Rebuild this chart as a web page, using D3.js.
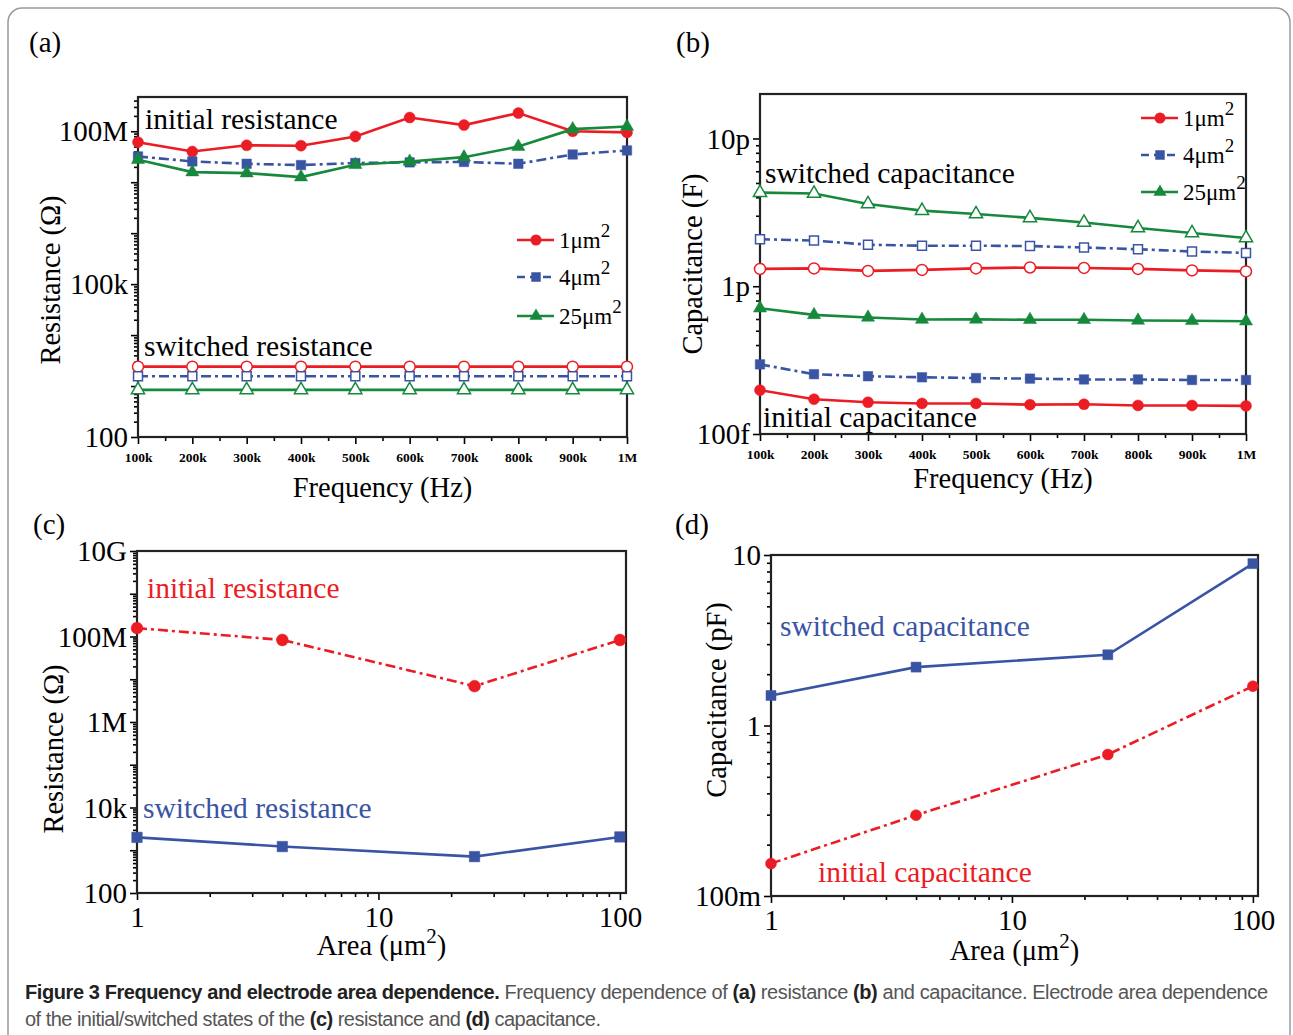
<!DOCTYPE html>
<html lang="en">
<head>
<meta charset="UTF-8">
<title>Figure 3</title>
<script src="https://d3js.org/d3.v7.min.js"></script>
<style>
  body { margin: 0; background: #fff; }
  svg { display: block; }
  .serif { font-family: "Liberation Serif", "DejaVu Serif", serif; }
  .caption { font-family: "Liberation Sans Narrow", "Liberation Sans", Arial, sans-serif; font-size: 20px; fill: #555; }
  .caption .b { font-weight: bold; fill: #222; }
</style>
</head>
<body>
<div id="chart"></div>
<script>
// ---- data ----
const freqK = [100, 200, 300, 400, 500, 600, 700, 800, 900, 1000];
const freqTickText = ["100k", "200k", "300k", "400k", "500k", "600k", "700k", "800k", "900k", "1M"];

// (a) resistance vs frequency (ohm)
const resInit1 = [6.1e7, 4.0e7, 5.3e7, 5.2e7, 7.9e7, 1.86e8, 1.32e8, 2.27e8, 1.0e8, 9.5e7];
const resInit4 = [3.2e7, 2.56e7, 2.3e7, 2.17e7, 2.38e7, 2.45e7, 2.5e7, 2.3e7, 3.5e7, 4.2e7];
const resInit25 = [2.76e7, 1.58e7, 1.51e7, 1.26e7, 2.2e7, 2.55e7, 3.1e7, 5.0e7, 1.1e8, 1.24e8];
const resSw1 = [2.4e3, 2.4e3, 2.4e3, 2.4e3, 2.4e3, 2.4e3, 2.4e3, 2.4e3, 2.4e3, 2.4e3];
const resSw4 = [1.56e3, 1.56e3, 1.56e3, 1.56e3, 1.56e3, 1.56e3, 1.56e3, 1.56e3, 1.56e3, 1.56e3];
const resSw25 = [840, 840, 840, 840, 840, 840, 840, 840, 840, 840];
const resFreqTicks = [1e2, 1e5, 1e8];
const resFreqTickText = ["100", "100k", "100M"];

// (b) capacitance vs frequency (F)
const capInit1 = [1.98e-13, 1.72e-13, 1.64e-13, 1.61e-13, 1.61e-13, 1.58e-13, 1.59e-13, 1.56e-13, 1.56e-13, 1.55e-13];
const capInit4 = [2.96e-13, 2.54e-13, 2.46e-13, 2.42e-13, 2.39e-13, 2.37e-13, 2.34e-13, 2.34e-13, 2.32e-13, 2.32e-13];
const capInit25 = [7.1e-13, 6.4e-13, 6.15e-13, 5.95e-13, 5.97e-13, 5.93e-13, 5.93e-13, 5.87e-13, 5.84e-13, 5.8e-13];
const capSw1 = [1.31e-12, 1.32e-12, 1.27e-12, 1.29e-12, 1.32e-12, 1.34e-12, 1.33e-12, 1.31e-12, 1.28e-12, 1.26e-12];
const capSw4 = [2.08e-12, 2.04e-12, 1.91e-12, 1.88e-12, 1.88e-12, 1.87e-12, 1.83e-12, 1.78e-12, 1.72e-12, 1.68e-12];
const capSw25 = [4.3e-12, 4.24e-12, 3.6e-12, 3.25e-12, 3.08e-12, 2.9e-12, 2.7e-12, 2.48e-12, 2.29e-12, 2.12e-12];
const capFreqTicks = [1e-13, 1e-12, 1e-11];
const capFreqTickText = ["100f", "1p", "10p"];

// (c), (d) electrode area dependence
const areas = [1, 4, 25, 100];
const areaTicks = [1, 10, 100];
const areaTickText = ["1", "10", "100"];
const areaResInit = [1.57e8, 8.3e7, 6.9e6, 8.3e7];
const areaResSw = [2.0e3, 1.22e3, 710, 2.05e3];
const resAreaTicks = [1e2, 1e4, 1e6, 1e8, 1e10];
const resAreaTickText = ["100", "10k", "1M", "100M", "10G"];
const areaCapInit = [0.155, 0.298, 0.676, 1.70];
const areaCapSw = [1.5, 2.2, 2.6, 8.9];
const capAreaTicks = [0.1, 1, 10];
const capAreaTickText = ["100m", "1", "10"];

const legendNames = ["1\u03bcm", "4\u03bcm", "25\u03bcm"];

// ---- style ----
const RED = "#ec1c24", BLUE = "#3a54a4", GREEN = "#17893d";
const DASHDOT = "10,4,3,4";

const svg = d3.select("#chart").append("svg")
    .attr("width", 1293).attr("height", 1035);

svg.append("rect")
    .attr("x", 8).attr("y", 8).attr("width", 1282).attr("height", 1045)
    .attr("rx", 14).attr("fill", "none").attr("stroke", "#9a9a9a").attr("stroke-width", 1.5);

function minorLogTicks(domain) {
    const out = [];
    const lo = Math.floor(Math.log10(domain[0])), hi = Math.ceil(Math.log10(domain[1]));
    for (let e = lo; e <= hi; e++) {
        for (let k = 2; k <= 9; k++) {
            const v = k * Math.pow(10, e);
            if (v > domain[0] && v < domain[1]) out.push(v);
        }
    }
    return out;
}
function decades(domain) {
    const out = [];
    for (let e = Math.ceil(Math.log10(domain[0]) - 1e-9); e <= Math.floor(Math.log10(domain[1]) + 1e-9); e++) {
        out.push(Math.pow(10, e));
    }
    return out;
}

function drawPanel(p) {
    const g = svg.append("g").attr("class", "serif");
    const x = p.x, y = p.y;
    const [xa, xb] = x.range(), [ya, yb] = y.range();

    // y axis: minor + major ticks
    g.append("g").attr("transform", `translate(${xa},0)`)
        .call(d3.axisLeft(y).tickValues(minorLogTicks(y.domain())).tickSize(4).tickFormat(""))
        .call(s => s.select(".domain").remove());
    g.append("g").attr("transform", `translate(${xa},0)`)
        .call(d3.axisLeft(y).tickValues(decades(y.domain())).tickSize(7).tickPadding(3)
            .tickFormat(d => {
                const i = p.yTicks.findIndex(t => Math.abs(Math.log10(t) - Math.log10(d)) < 1e-6);
                return i >= 0 ? p.yTickText[i] : "";
            }))
        .call(s => s.select(".domain").remove())
        .call(s => s.selectAll("text").attr("font-family", "Liberation Serif").attr("font-size", 29)
            .attr("fill", "#000").attr("dy", "0.33em"));

    // x axis
    g.append("g").attr("transform", `translate(0,${ya})`)
        .call(d3.axisBottom(x).tickValues(p.xMinor).tickSize(4).tickFormat(""))
        .call(s => s.select(".domain").remove());
    g.append("g").attr("transform", `translate(0,${ya})`)
        .call(d3.axisBottom(x).tickValues(p.xTicks).tickSize(7).tickPadding(p.xPad)
            .tickFormat((d, i) => p.xTickText[i]))
        .call(s => s.select(".domain").remove())
        .call(s => s.selectAll("text").attr("font-family", "Liberation Serif")
            .attr("font-size", p.xFont).attr("font-weight", p.xBold ? "bold" : "normal").attr("fill", "#000"));
    g.selectAll(".tick line").attr("stroke", "#000").attr("stroke-width", 1.6);

    // frame
    g.append("rect").attr("x", xa).attr("y", yb).attr("width", xb - xa).attr("height", ya - yb)
        .attr("fill", "none").attr("stroke", "#222").attr("stroke-width", 2.2);

    // series
    const line = d3.line().x(d => x(d[0])).y(d => y(d[1]));
    p.series.forEach(s => {
        const pts = s.xs.map((v, i) => [v, s.ys[i]]);
        g.append("path").datum(pts).attr("d", line)
            .attr("fill", "none").attr("stroke", s.color).attr("stroke-width", 2.6)
            .attr("stroke-dasharray", s.dash || null);
        g.selectAll(null).data(pts).enter().append("path")
            .attr("transform", d => `translate(${x(d[0])},${y(d[1])})`)
            .attr("d", d3.symbol().type(s.symbol).size(s.size))
            .attr("fill", s.open ? "#fff" : s.color)
            .attr("stroke", s.color).attr("stroke-width", s.open ? 1.5 : 0.5);
    });

    // annotations
    p.notes.forEach(n => {
        g.append("text").attr("x", n.x).attr("y", n.y).attr("font-size", 29.5)
            .attr("fill", n.color || "#000").text(n.text);
    });

    // axis titles
    const xt = g.append("text").attr("x", (xa + xb) / 2).attr("y", p.xTitleY)
        .attr("text-anchor", "middle").attr("font-size", 28.5);
    p.xTitle.forEach(part => {
        xt.append("tspan").attr("dy", part.dy || 0)
            .attr("font-size", part.sup ? 21 : null).text(part.t);
    });
    g.append("text")
        .attr("transform", `translate(${p.yTitleX},${p.yTitleY}) rotate(-90)`)
        .attr("text-anchor", "middle").attr("dominant-baseline", "central")
        .attr("font-size", 28.5).text(p.yTitle);

    // panel letter
    g.append("text").attr("x", p.letterX).attr("y", p.letterY).attr("font-size", 29).text(p.letter);

    // legend
    if (p.legend) {
        p.series.filter(s => s.legend).forEach((s, i) => {
            const cy = p.legend.y[i];
            const lx = p.legend.x;
            g.append("line").attr("x1", lx).attr("x2", lx + 37).attr("y1", cy).attr("y2", cy)
                .attr("stroke", s.color).attr("stroke-width", 2.6)
                .attr("stroke-dasharray", s.dash ? "8,5" : null);
            g.append("path").attr("transform", `translate(${lx + 19},${cy})`)
                .attr("d", d3.symbol().type(s.symbol).size(s.size)).attr("fill", s.color);
            const t = g.append("text").attr("x", lx + 42).attr("y", cy + 8).attr("font-size", 23);
            t.append("tspan").text(legendNames[i]);
            t.append("tspan").attr("dy", -11).attr("font-size", 19).text("2");
        });
    }
}

const CIRC = d3.symbolCircle, SQ = d3.symbolSquare, TRI = d3.symbolTriangle;
const freqMinor = d3.range(150, 1000, 100);
const areaMinor = minorLogTicks([1, 100]);
const areaTitle = [{t: "Area (\u03bcm"}, {t: "2", dy: -12, sup: true}, {t: ")", dy: 12}];

// (a)
drawPanel({
    x: d3.scaleLinear().domain([100, 1000]).range([138, 627]),
    y: d3.scaleLog().domain([1e2, 4.7e8]).range([437, 97]),
    xTicks: freqK, xTickText: freqTickText, xMinor: freqMinor, xFont: 13.5, xBold: true, xPad: 8,
    yTicks: resFreqTicks, yTickText: resFreqTickText,
    series: [
        {xs: freqK, ys: resInit1, color: RED, symbol: CIRC, size: 95, legend: true},
        {xs: freqK, ys: resInit4, color: BLUE, symbol: SQ, size: 90, dash: DASHDOT, legend: true},
        {xs: freqK, ys: resInit25, color: GREEN, symbol: TRI, size: 75, legend: true},
        {xs: freqK, ys: resSw1, color: RED, symbol: CIRC, size: 95, open: true},
        {xs: freqK, ys: resSw4, color: BLUE, symbol: SQ, size: 80, dash: DASHDOT, open: true},
        {xs: freqK, ys: resSw25, color: GREEN, symbol: TRI, size: 75, open: true}
    ],
    notes: [{x: 145, y: 129, text: "initial resistance"}, {x: 144, y: 356, text: "switched resistance"}],
    xTitle: [{t: "Frequency (Hz)"}], xTitleY: 497,
    yTitle: "Resistance (\u03a9)", yTitleX: 50, yTitleY: 280,
    letter: "(a)", letterX: 29, letterY: 52,
    legend: {x: 517, y: [240, 277, 316]}
});

// (b)
drawPanel({
    x: d3.scaleLinear().domain([100, 1000]).range([760, 1246]),
    y: d3.scaleLog().domain([1e-13, 2.0e-11]).range([434, 94]),
    xTicks: freqK, xTickText: freqTickText, xMinor: freqMinor, xFont: 13.5, xBold: true, xPad: 8,
    yTicks: capFreqTicks, yTickText: capFreqTickText,
    series: [
        {xs: freqK, ys: capInit1, color: RED, symbol: CIRC, size: 95, legend: true},
        {xs: freqK, ys: capInit4, color: BLUE, symbol: SQ, size: 90, dash: DASHDOT, legend: true},
        {xs: freqK, ys: capInit25, color: GREEN, symbol: TRI, size: 75, legend: true},
        {xs: freqK, ys: capSw1, color: RED, symbol: CIRC, size: 95, open: true},
        {xs: freqK, ys: capSw4, color: BLUE, symbol: SQ, size: 80, dash: DASHDOT, open: true},
        {xs: freqK, ys: capSw25, color: GREEN, symbol: TRI, size: 75, open: true}
    ],
    notes: [{x: 765, y: 183, text: "switched capacitance"}, {x: 763, y: 427, text: "initial capacitance"}],
    xTitle: [{t: "Frequency (Hz)"}], xTitleY: 488,
    yTitle: "Capacitance (F)", yTitleX: 692, yTitleY: 264,
    letter: "(b)", letterX: 676, letterY: 52,
    legend: {x: 1141, y: [118, 155, 192]}
});

// (c)
drawPanel({
    x: d3.scaleLog().domain([1, 106]).range([137, 626]),
    y: d3.scaleLog().domain([1e2, 1e10]).range([893, 551]),
    xTicks: areaTicks, xTickText: areaTickText, xMinor: areaMinor, xFont: 29, xBold: false, xPad: 6,
    yTicks: resAreaTicks, yTickText: resAreaTickText,
    series: [
        {xs: areas, ys: areaResInit, color: RED, symbol: CIRC, size: 110, dash: DASHDOT},
        {xs: areas, ys: areaResSw, color: BLUE, symbol: SQ, size: 110}
    ],
    notes: [{x: 147, y: 598, text: "initial resistance", color: RED},
            {x: 143, y: 818, text: "switched resistance", color: BLUE}],
    xTitle: areaTitle, xTitleY: 955,
    yTitle: "Resistance (\u03a9)", yTitleX: 53, yTitleY: 749,
    letter: "(c)", letterX: 33, letterY: 534
});

// (d)
drawPanel({
    x: d3.scaleLog().domain([1, 105]).range([771, 1258]),
    y: d3.scaleLog().domain([0.1, 10]).range([896, 555]),
    xTicks: areaTicks, xTickText: areaTickText, xMinor: areaMinor, xFont: 29, xBold: false, xPad: 6,
    yTicks: capAreaTicks, yTickText: capAreaTickText,
    series: [
        {xs: areas, ys: areaCapInit, color: RED, symbol: CIRC, size: 95, dash: DASHDOT},
        {xs: areas, ys: areaCapSw, color: BLUE, symbol: SQ, size: 100}
    ],
    notes: [{x: 780, y: 636, text: "switched capacitance", color: BLUE},
            {x: 818, y: 882, text: "initial capacitance", color: RED}],
    xTitle: areaTitle, xTitleY: 960,
    yTitle: "Capacitance (pF)", yTitleX: 716, yTitleY: 700,
    letter: "(d)", letterX: 675, letterY: 534
});

// caption
const cap1 = svg.append("text").attr("class", "caption").attr("x", 25).attr("y", 999)
    .attr("textLength", 1243).attr("lengthAdjust", "spacing");
cap1.append("tspan").attr("class", "b").text("Figure 3 Frequency and electrode area dependence.");
cap1.append("tspan").text(" Frequency dependence of ");
cap1.append("tspan").attr("class", "b").text("(a)");
cap1.append("tspan").text(" resistance ");
cap1.append("tspan").attr("class", "b").text("(b)");
cap1.append("tspan").text(" and capacitance. Electrode area dependence");

const cap2 = svg.append("text").attr("class", "caption").attr("x", 25).attr("y", 1026)
    .attr("textLength", 576).attr("lengthAdjust", "spacing");
cap2.append("tspan").text("of the initial/switched states of the ");
cap2.append("tspan").attr("class", "b").text("(c)");
cap2.append("tspan").text(" resistance and ");
cap2.append("tspan").attr("class", "b").text("(d)");
cap2.append("tspan").text(" capacitance.");
</script>
</body>
</html>
